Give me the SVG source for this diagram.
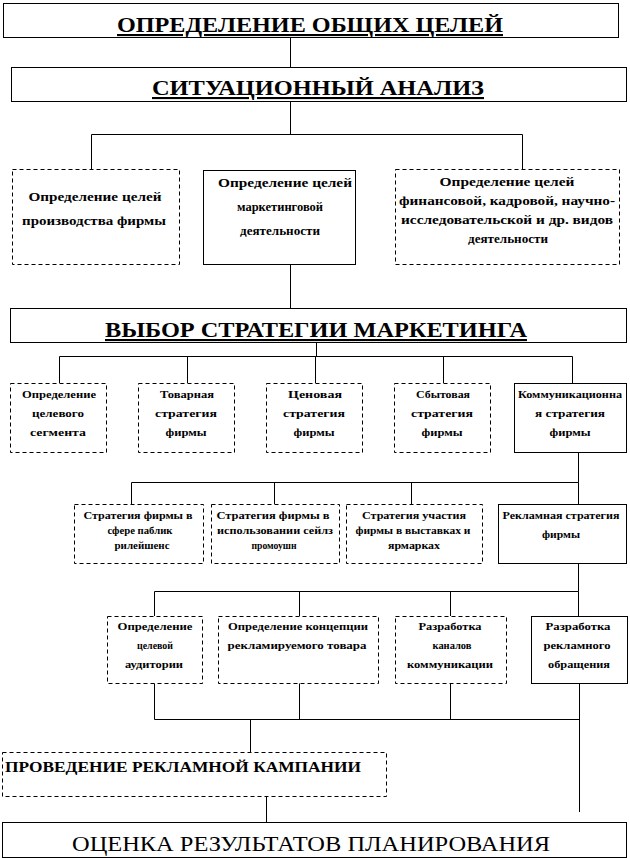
<svg xmlns="http://www.w3.org/2000/svg" width="630" height="858" viewBox="0 0 630 858">
<style>
.b{fill:#fff;stroke:#000;stroke-width:1}
.d{fill:#fff;stroke:#000;stroke-width:1;stroke-dasharray:4 3}
.c{fill:none;stroke:#000;stroke-width:1}
text{font-family:"Liberation Serif","DejaVu Serif",serif;font-weight:bold;fill:#000;text-anchor:middle}
.h{font-size:21px;text-decoration:underline}
.m{font-size:13px}
.s{font-size:11px}
.r{font-size:22px;font-weight:normal}
</style>
<rect width="630" height="858" fill="#fff"/>
<g id="connectors">
<path class="c" d="M290.5 37V67M290.5 101V134.5M91.5 169V134.5H522.5V169M290.5 264V308"/>
<path class="c" d="M316.5 342V356.5M59.5 383V356.5H572.5V383M187.5 356.5V383M315.5 356.5V383M443.5 356.5V383"/>
<path class="c" d="M578.5 452V482.5M131.5 504V482.5H578.5V504M274.5 482.5V504M411.5 482.5V504"/>
<path class="c" d="M578.5 563V591.5M154.5 616V591.5H578.5V616M299.5 591.5V616M450.5 591.5V616"/>
<path class="c" d="M154.5 683V719.5H579.5M299.5 683V719.5M450.5 683V719.5M579.5 683V812M250.5 719.5V752M266.5 796V822"/>
</g>
<g id="n1"><rect class="b" x="3.5" y="3.5" width="615" height="34"/><text class="h" x="310" y="32" textLength="386" lengthAdjust="spacingAndGlyphs">ОПРЕДЕЛЕНИЕ ОБЩИХ ЦЕЛЕЙ</text></g>
<g id="n2"><rect class="b" x="11.5" y="67.5" width="615" height="34"/><text class="h" x="318" y="95" textLength="332" lengthAdjust="spacingAndGlyphs">СИТУАЦИОННЫЙ АНАЛИЗ</text></g>
<g id="n3a"><rect class="d" x="12.5" y="169.5" width="167" height="95"/>
<text class="m" x="95" y="201" textLength="133" lengthAdjust="spacingAndGlyphs">Определение целей</text>
<text class="m" x="94" y="225" textLength="144" lengthAdjust="spacingAndGlyphs">производства фирмы</text></g>
<g id="n3b"><rect class="b" x="203.5" y="170.5" width="152" height="94"/>
<text class="m" x="285" y="187" textLength="134" lengthAdjust="spacingAndGlyphs">Определение целей</text>
<text class="m" x="280" y="211" textLength="86" lengthAdjust="spacingAndGlyphs">маркетинговой</text>
<text class="m" x="280" y="235" textLength="80" lengthAdjust="spacingAndGlyphs">деятельности</text></g>
<g id="n3c"><rect class="d" x="395.5" y="169.5" width="224" height="95"/>
<text class="m" x="507" y="186" textLength="135" lengthAdjust="spacingAndGlyphs">Определение целей</text>
<text class="m" x="507" y="205" textLength="216" lengthAdjust="spacingAndGlyphs">финансовой, кадровой, научно-</text>
<text class="m" x="507" y="224" textLength="212" lengthAdjust="spacingAndGlyphs">исследовательской и др. видов</text>
<text class="m" x="508" y="243" textLength="80" lengthAdjust="spacingAndGlyphs">деятельности</text></g>
<g id="n4"><rect class="b" x="10.5" y="308.5" width="616" height="34"/><text class="h" x="316" y="337" textLength="422" lengthAdjust="spacingAndGlyphs">ВЫБОР СТРАТЕГИИ МАРКЕТИНГА</text></g>
<g id="n5a"><rect class="d" x="10.5" y="383.5" width="96" height="69"/>
<text class="s" x="59" y="398" textLength="74" lengthAdjust="spacingAndGlyphs">Определение</text>
<text class="s" x="58" y="417" textLength="52" lengthAdjust="spacingAndGlyphs">целевого</text>
<text class="s" x="58" y="436" textLength="56" lengthAdjust="spacingAndGlyphs">сегмента</text></g>
<g id="n5b"><rect class="d" x="138.5" y="383.5" width="96" height="69"/>
<text class="s" x="187" y="398" textLength="54" lengthAdjust="spacingAndGlyphs">Товарная</text>
<text class="s" x="186" y="417" textLength="62" lengthAdjust="spacingAndGlyphs">стратегия</text>
<text class="s" x="186" y="436" textLength="41" lengthAdjust="spacingAndGlyphs">фирмы</text></g>
<g id="n5c"><rect class="d" x="266.5" y="383.5" width="96" height="69"/>
<text class="s" x="315" y="398" textLength="54" lengthAdjust="spacingAndGlyphs">Ценовая</text>
<text class="s" x="314" y="417" textLength="62" lengthAdjust="spacingAndGlyphs">стратегия</text>
<text class="s" x="314" y="436" textLength="41" lengthAdjust="spacingAndGlyphs">фирмы</text></g>
<g id="n5d"><rect class="d" x="394.5" y="383.5" width="96" height="69"/>
<text class="s" x="443" y="398" textLength="54" lengthAdjust="spacingAndGlyphs">Сбытовая</text>
<text class="s" x="442" y="417" textLength="62" lengthAdjust="spacingAndGlyphs">стратегия</text>
<text class="s" x="442" y="436" textLength="41" lengthAdjust="spacingAndGlyphs">фирмы</text></g>
<g id="n5e"><rect class="b" x="514.5" y="383.5" width="112" height="69"/>
<text class="s" x="570" y="398" textLength="104" lengthAdjust="spacingAndGlyphs">Коммуникационна</text>
<text class="s" x="570" y="417" textLength="70" lengthAdjust="spacingAndGlyphs">я стратегия</text>
<text class="s" x="570" y="436" textLength="41" lengthAdjust="spacingAndGlyphs">фирмы</text></g>
<g id="n6a"><rect class="d" x="74.5" y="504.5" width="129" height="59"/>
<text class="s" x="138" y="519" textLength="109" lengthAdjust="spacingAndGlyphs">Стратегия фирмы в</text>
<text class="s" x="140" y="534" textLength="65" lengthAdjust="spacingAndGlyphs">сфере паблик</text>
<text class="s" x="142" y="549" textLength="55" lengthAdjust="spacingAndGlyphs">рилейшенс</text></g>
<g id="n6b"><rect class="d" x="211.5" y="504.5" width="128" height="59"/>
<text class="s" x="273" y="519" textLength="113" lengthAdjust="spacingAndGlyphs">Стратегия фирмы в</text>
<text class="s" x="275" y="534" textLength="116" lengthAdjust="spacingAndGlyphs">использовании сейлз</text>
<text class="s" x="274" y="549" textLength="45" lengthAdjust="spacingAndGlyphs">промоушн</text></g>
<g id="n6c"><rect class="d" x="346.5" y="504.5" width="136" height="59"/>
<text class="s" x="414" y="519" textLength="104" lengthAdjust="spacingAndGlyphs">Стратегия участия</text>
<text class="s" x="413" y="534" textLength="115" lengthAdjust="spacingAndGlyphs">фирмы в выставках и</text>
<text class="s" x="414" y="549" textLength="52" lengthAdjust="spacingAndGlyphs">ярмарках</text></g>
<g id="n6d"><rect class="b" x="498.5" y="504.5" width="128" height="59"/>
<text class="s" x="561" y="519" textLength="117" lengthAdjust="spacingAndGlyphs">Рекламная стратегия</text>
<text class="s" x="561" y="538" textLength="38" lengthAdjust="spacingAndGlyphs">фирмы</text></g>
<g id="n7a"><rect class="d" x="107.5" y="616.5" width="95" height="67"/>
<text class="s" x="155" y="630" textLength="75" lengthAdjust="spacingAndGlyphs">Определение</text>
<text class="s" x="155" y="649" textLength="36" lengthAdjust="spacingAndGlyphs">целевой</text>
<text class="s" x="154" y="668" textLength="58" lengthAdjust="spacingAndGlyphs">аудитории</text></g>
<g id="n7b"><rect class="d" x="218.5" y="616.5" width="160" height="67"/>
<text class="s" x="298" y="630" textLength="140" lengthAdjust="spacingAndGlyphs">Определение концепции</text>
<text class="s" x="297" y="649" textLength="139" lengthAdjust="spacingAndGlyphs">рекламируемого товара</text></g>
<g id="n7c"><rect class="d" x="395.5" y="616.5" width="111" height="67"/>
<text class="s" x="450" y="630" textLength="63" lengthAdjust="spacingAndGlyphs">Разработка</text>
<text class="s" x="452" y="649" textLength="39" lengthAdjust="spacingAndGlyphs">каналов</text>
<text class="s" x="450" y="668" textLength="86" lengthAdjust="spacingAndGlyphs">коммуникации</text></g>
<g id="n7d"><rect class="b" x="531.5" y="616.5" width="96" height="67"/>
<text class="s" x="578" y="630" textLength="65" lengthAdjust="spacingAndGlyphs">Разработка</text>
<text class="s" x="577" y="649" textLength="67" lengthAdjust="spacingAndGlyphs">рекламного</text>
<text class="s" x="579" y="668" textLength="62" lengthAdjust="spacingAndGlyphs">обращения</text></g>
<g id="n8"><rect class="d" x="2.5" y="752.5" width="384" height="44"/>
<text x="5" y="772" style="text-anchor:start;font-size:15px" textLength="356" lengthAdjust="spacingAndGlyphs">ПРОВЕДЕНИЕ РЕКЛАМНОЙ КАМПАНИИ</text></g>
<g id="n9"><rect class="b" x="2.5" y="822.5" width="624" height="35"/>
<text class="r" x="311" y="851" textLength="478" lengthAdjust="spacingAndGlyphs">ОЦЕНКА РЕЗУЛЬТАТОВ ПЛАНИРОВАНИЯ</text></g>
</svg>
